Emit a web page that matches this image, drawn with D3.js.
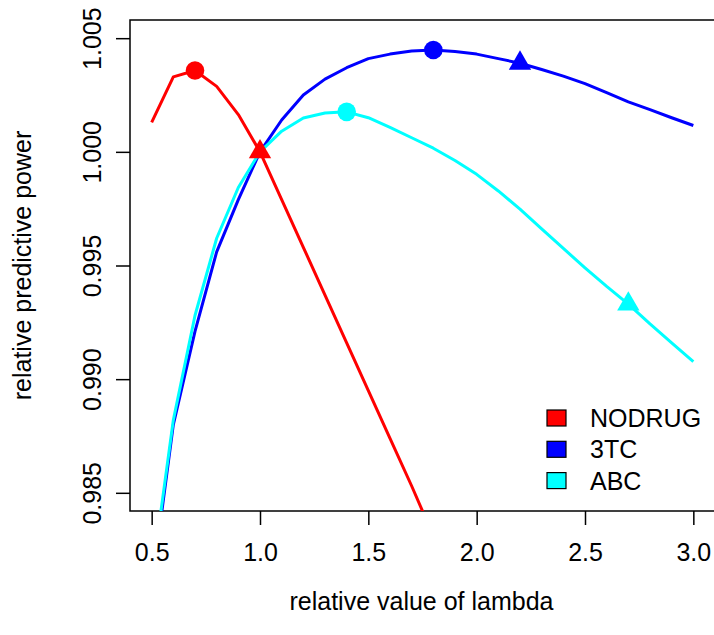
<!DOCTYPE html>
<html>
<head>
<meta charset="utf-8">
<script src="https://cdn.jsdelivr.net/npm/d3@7"></script>
<style>
    body { margin: 0; background: #fff; }
    svg text { font-family: "Liberation Sans", Arial, sans-serif; fill: #000; }
</style>
</head>
<body>
<svg id="chart" width="714" height="635"></svg>
<script>
// relative lambda values (x) for each series
var lambdaFull = [0.5, 0.6, 0.7, 0.8, 0.9, 1.0, 1.1, 1.2, 1.3, 1.4, 1.5, 1.6, 1.7, 1.8,
    1.9, 2.0, 2.1, 2.2, 2.3, 2.4, 2.5, 2.6, 2.7, 2.8, 2.9, 3.0];
var lambdaNodrug = [0.5, 0.6, 0.7, 0.8, 0.9, 1.0, 1.1, 1.2, 1.3, 1.4, 1.5, 1.6, 1.7, 1.8];

// relative predictive power
var powerNodrug = [1.0013, 1.0033, 1.00358, 1.00288, 1.00164, 1.0000, 0.9979, 0.9958,
    0.9937, 0.9916, 0.9895, 0.9874, 0.9853, 0.9831];
var power3TC = [0.9808, 0.9880, 0.9921, 0.9956, 0.9979, 1.0000, 1.0014, 1.0025, 1.0032,
    1.0037, 1.0041, 1.0043, 1.00444, 1.00448, 1.00441, 1.0043, 1.0041, 1.0039, 1.00362,
    1.00333, 1.0030, 1.0026, 1.0022, 1.00186, 1.0015, 1.00116];
var powerABC = [0.9812, 0.9882, 0.9928, 0.9962, 0.99843, 1.0000, 1.00091, 1.00149, 1.00171,
    1.00176, 1.00150, 1.00108, 1.00062, 1.00016, 0.99962, 0.99901, 0.99828, 0.99748, 0.99661,
    0.99575, 0.99490, 0.99408, 0.99330, 0.99243, 0.99160, 0.99077];

// lambda where each series gets a circle (best) and a triangle
var seriesNames = ["NODRUG", "3TC", "ABC"];
var seriesColors = ["#ff0000", "#0000ff", "#00ffff"];
var bestLambda = [0.7, 1.8, 1.4];
var triLambda = [1.0, 2.2, 2.7];

var xTicks = [0.5, 1.0, 1.5, 2.0, 2.5, 3.0];
var yTicks = [0.985, 0.990, 0.995, 1.000, 1.005];

var series = [
    { x: lambdaNodrug, y: powerNodrug },
    { x: lambdaFull, y: power3TC },
    { x: lambdaFull, y: powerABC }
];

var svg = d3.select("#chart"),
    plot = { left: 130, right: 715, top: 20, bottom: 511 },
    fontSize = 25;

var x = d3.scaleLinear().domain([0.4, 3.1]).range([plot.left, plot.right]),
    y = d3.scaleLinear().domain([0.9842, 1.0058]).range([plot.bottom, plot.top]);

svg.append("defs").append("clipPath").attr("id", "plotClip")
    .append("rect")
    .attr("x", plot.left).attr("y", plot.top)
    .attr("width", plot.right - plot.left).attr("height", plot.bottom - plot.top);

// axes
var xAxis = svg.append("g")
    .attr("transform", "translate(0," + plot.bottom + ")")
    .call(d3.axisBottom(x).tickValues(xTicks).tickFormat(d3.format(".1f")).tickSizeInner(14).tickSizeOuter(0));
xAxis.select(".domain").remove();
xAxis.selectAll("line").attr("stroke", "#000").attr("stroke-width", 1.5);
xAxis.selectAll("text").attr("y", 0).attr("dy", 0)
    .attr("transform", "translate(0,50)")
    .style("font-size", fontSize + "px");

var yAxis = svg.append("g")
    .attr("transform", "translate(" + plot.left + ",0)")
    .call(d3.axisLeft(y).tickValues(yTicks).tickFormat(d3.format(".3f")).tickSizeInner(14).tickSizeOuter(0));
yAxis.select(".domain").remove();
yAxis.selectAll("line").attr("stroke", "#000").attr("stroke-width", 1.5);
yAxis.selectAll("text")
    .attr("x", 0).attr("dy", 0)
    .attr("text-anchor", "middle")
    .attr("transform", "translate(-29,0) rotate(-90)")
    .style("font-size", fontSize + "px");

// box
svg.append("rect")
    .attr("x", plot.left).attr("y", plot.top)
    .attr("width", plot.right - plot.left).attr("height", plot.bottom - plot.top)
    .attr("fill", "none").attr("stroke", "#000").attr("stroke-width", 1.5);

// lines
var line = d3.line().x(d => x(d[0])).y(d => y(d[1]));
var lines = svg.append("g").attr("clip-path", "url(#plotClip)");

series.forEach(function (s, i) {
    var pts = s.x.map((v, j) => [v, s.y[j]]);
    lines.append("path")
        .datum(pts)
        .attr("d", line)
        .attr("fill", "none")
        .attr("stroke", seriesColors[i])
        .attr("stroke-width", 3)
        .attr("stroke-linejoin", "round");
});

// markers: circle at best lambda, triangle at the other one
var _valueAt = function (s, l) {
    var j = s.x.findIndex(v => Math.abs(v - l) < 1e-9);
    return s.y[j];
};
var triS = 8.3,
    triR = 1.555 * triS, triXc = 1.347 * triS, triYc = 0.778 * triS;

series.forEach(function (s, i) {
    lines.append("circle")
        .attr("cx", x(bestLambda[i])).attr("cy", y(_valueAt(s, bestLambda[i])))
        .attr("r", 9.3)
        .attr("fill", seriesColors[i]);

    var tx = x(triLambda[i]), ty = y(_valueAt(s, triLambda[i]));
    lines.append("path")
        .attr("d", "M" + tx + "," + (ty - triR) +
            "L" + (tx + triXc) + "," + (ty + triYc) +
            "L" + (tx - triXc) + "," + (ty + triYc) + "Z")
        .attr("fill", seriesColors[i]);
});

// legend
var legend = svg.append("g").attr("transform", "translate(547,410)");
var rows = legend.selectAll("g").data(seriesNames).enter()
    .append("g")
    .attr("transform", (d, i) => "translate(0," + (i * 31.3) + ")");
rows.append("rect")
    .attr("x", 0).attr("y", 0).attr("width", 19).attr("height", 16)
    .attr("fill", (d, i) => seriesColors[i])
    .attr("stroke", "#000").attr("stroke-width", 1.2);
rows.append("text")
    .attr("x", 43).attr("y", 17)
    .style("font-size", fontSize + "px")
    .text(d => d);

// axis titles
svg.append("text")
    .attr("x", (plot.left + plot.right) / 2 - 1).attr("y", 610)
    .attr("text-anchor", "middle")
    .style("font-size", fontSize + "px")
    .text("relative value of lambda");

svg.append("text")
    .attr("transform", "translate(31," + ((plot.top + plot.bottom) / 2) + ") rotate(-90)")
    .attr("text-anchor", "middle")
    .style("font-size", fontSize + "px")
    .text("relative predictive power");
</script>
</body>
</html>
